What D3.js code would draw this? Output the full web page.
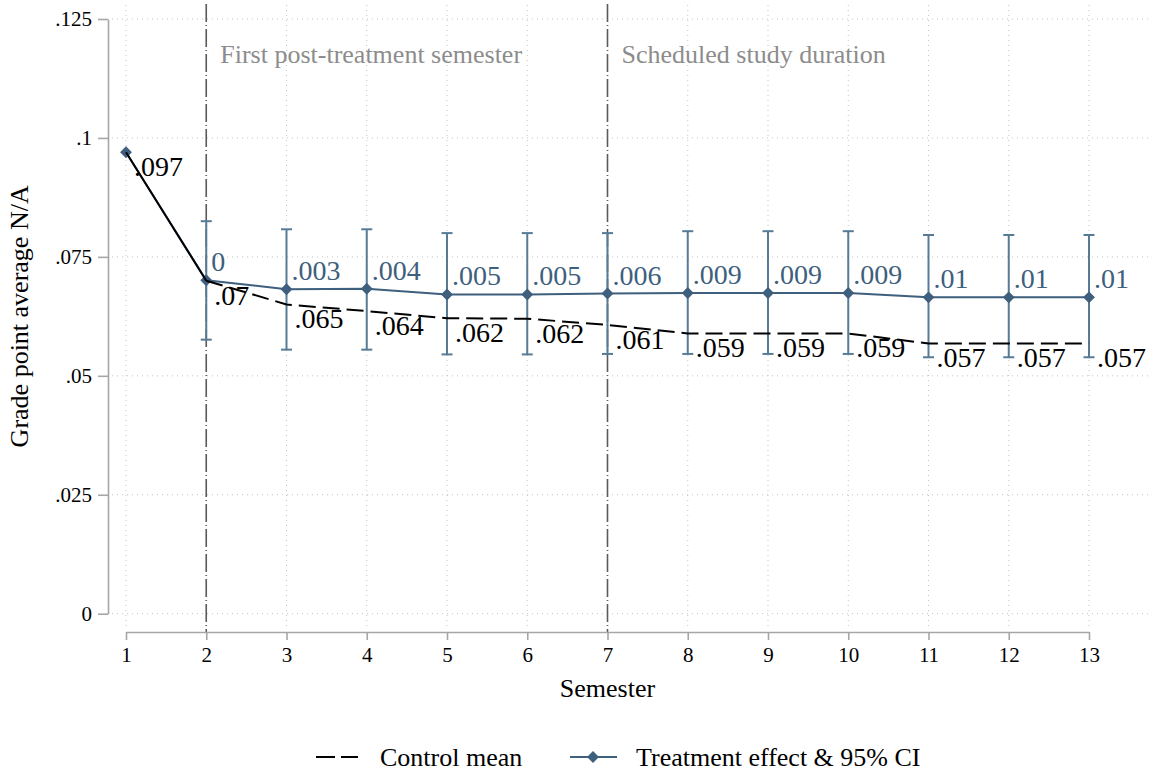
<!DOCTYPE html>
<html>
<head>
<meta charset="utf-8">
<script src="https://cdn.jsdelivr.net/npm/d3@7"></script>
<style>
  body { margin: 0; background: #fff; }
  svg { display: block; font-family: "Liberation Serif", "Times New Roman", serif; }
</style>
</head>
<body>
<div id="chart"></div>
<script>
// semesters and series
var semesters = [1, 2, 3, 4, 5, 6, 7, 8, 9, 10, 11, 12, 13];
var controlMean = [0.0970, 0.0700, 0.0650, 0.0636, 0.0621, 0.0620, 0.0607, 0.0589, 0.0589, 0.0589, 0.0568, 0.0568, 0.0568];
var treatLevel = [0.0970, 0.0701, 0.0682, 0.0683, 0.0671, 0.0671, 0.0673, 0.0674, 0.0674, 0.0674, 0.0665, 0.0665, 0.0665];
var ciLow = [null, 0.0576, 0.0555, 0.0555, 0.0545, 0.0545, 0.0546, 0.0546, 0.0546, 0.0546, 0.0539, 0.0539, 0.0539];
var ciHigh = [null, 0.0825, 0.0808, 0.0808, 0.0800, 0.0800, 0.0800, 0.0804, 0.0804, 0.0804, 0.0796, 0.0796, 0.0796];
var effectLabels = [null, 0, 0.003, 0.004, 0.005, 0.005, 0.006, 0.009, 0.009, 0.009, 0.01, 0.01, 0.01];
var yTicks = [0, 0.025, 0.05, 0.075, 0.1, 0.125];
var yTickLabels = ["0", ".025", ".05", ".075", ".1", ".125"];
var refLines = [
    { sem: 2, text: "First post-treatment semester" },
    { sem: 7, text: "Scheduled study duration" }
];

var W = 1157, H = 773;
var blue = "#3e5f7d", ciBlue = "#587b95", gray = "#a6a6a6";

var fmt = function(v) {
    var s = String(+v.toFixed(3));
    return s.replace(/^0\./, ".").replace(/^-0\./, "-.");
};

var x = d3.scaleLinear().domain([1, 13]).range([126, 1089]);
var y = d3.scaleLinear().domain([0, 0.125]).range([613.7, 19]);

var svg = d3.select("#chart").append("svg")
    .attr("width", W)
    .attr("height", H);

// dotted grid
svg.append("g").selectAll("line").data(yTicks).enter().append("line")
    .attr("x1", 112).attr("x2", 1152)
    .attr("y1", function(d) { return y(d); })
    .attr("y2", function(d) { return y(d); })
    .attr("stroke", "#c4c4c4").attr("stroke-width", 1)
    .attr("stroke-dasharray", "1,4");
svg.append("g").selectAll("line").data(semesters).enter().append("line")
    .attr("x1", function(d) { return x(d); })
    .attr("x2", function(d) { return x(d); })
    .attr("y1", 5).attr("y2", 628)
    .attr("stroke", "#c4c4c4").attr("stroke-width", 1)
    .attr("stroke-dasharray", "1,4");

// reference lines with notes
var ref = svg.append("g");
ref.selectAll("line").data(refLines).enter().append("line")
    .attr("x1", function(d) { return x(d.sem); })
    .attr("x2", function(d) { return x(d.sem); })
    .attr("y1", 4).attr("y2", 632)
    .attr("stroke", "#5a5a5a").attr("stroke-width", 1.6)
    .attr("stroke-dasharray", "18,3,1,3");
ref.selectAll("text").data(refLines).enter().append("text")
    .attr("x", function(d) { return x(d.sem) + 14; })
    .attr("y", 63)
    .attr("fill", "#8c8c8c")
    .style("font-size", "26px")
    .text(function(d) { return d.text; });

// axes
var yAxis = d3.axisLeft(y).tickValues(yTicks)
    .tickFormat(function(d, i) { return yTickLabels[i]; })
    .tickSize(10).tickSizeOuter(0).tickPadding(6);
var xAxis = d3.axisBottom(x).tickValues(semesters)
    .tickFormat(d3.format("d"))
    .tickSize(8).tickSizeOuter(0).tickPadding(7);

var gy = svg.append("g").attr("transform", "translate(108,0)").call(yAxis);
var gx = svg.append("g").attr("transform", "translate(0,632)").call(xAxis);
[gy, gx].forEach(function(g) {
    g.select(".domain").attr("stroke", gray).attr("stroke-width", 1.6);
    g.selectAll(".tick line").attr("stroke", gray).attr("stroke-width", 1.6);
    g.selectAll(".tick text").attr("fill", "#000")
        .style("font-size", "21px")
        .style("font-family", "'Liberation Serif', 'Times New Roman', serif");
});

svg.append("text")
    .attr("transform", "translate(28," + y(0.0625) + ") rotate(-90)")
    .attr("text-anchor", "middle")
    .style("font-size", "26px")
    .text("Grade point average N/A");
svg.append("text")
    .attr("x", (x(1) + x(13)) / 2).attr("y", 697)
    .attr("text-anchor", "middle")
    .style("font-size", "26px")
    .text("Semester");

// confidence intervals
var ciIdx = semesters.map(function(d, i) { return i; }).filter(function(i) { return ciLow[i] !== null; });
var ci = svg.append("g").attr("stroke", ciBlue).attr("stroke-width", 2);
ci.selectAll(".bar").data(ciIdx).enter().append("line")
    .attr("x1", function(i) { return x(semesters[i]); })
    .attr("x2", function(i) { return x(semesters[i]); })
    .attr("y1", function(i) { return y(ciLow[i]); })
    .attr("y2", function(i) { return y(ciHigh[i]); });
ci.selectAll(".capLo").data(ciIdx).enter().append("line")
    .attr("x1", function(i) { return x(semesters[i]) - 5.5; })
    .attr("x2", function(i) { return x(semesters[i]) + 5.5; })
    .attr("y1", function(i) { return y(ciLow[i]); })
    .attr("y2", function(i) { return y(ciLow[i]); });
ci.selectAll(".capHi").data(ciIdx).enter().append("line")
    .attr("x1", function(i) { return x(semesters[i]) - 5.5; })
    .attr("x2", function(i) { return x(semesters[i]) + 5.5; })
    .attr("y1", function(i) { return y(ciHigh[i]); })
    .attr("y2", function(i) { return y(ciHigh[i]); });

// treatment line and markers
var line = d3.line()
    .x(function(d) { return x(d[0]); })
    .y(function(d) { return y(d[1]); });
var treatPts = semesters.map(function(s, i) { return [s, treatLevel[i]]; });
svg.append("path").datum(treatPts)
    .attr("d", line)
    .attr("fill", "none").attr("stroke", blue).attr("stroke-width", 2);
var diamond = d3.symbol().type(d3.symbolDiamond2).size(90);
svg.append("g").selectAll("path").data(treatPts).enter().append("path")
    .attr("d", diamond)
    .attr("transform", function(d) { return "translate(" + x(d[0]) + "," + y(d[1]) + ")"; })
    .attr("fill", blue);

// control mean: solid before treatment, dashed after
var ctrlPts = semesters.map(function(s, i) { return [s, controlMean[i]]; });
svg.append("path").datum(ctrlPts.slice(0, 2))
    .attr("d", line)
    .attr("fill", "none").attr("stroke", "#000").attr("stroke-width", 2);
svg.append("path").datum(ctrlPts.slice(1))
    .attr("d", line)
    .attr("fill", "none").attr("stroke", "#000").attr("stroke-width", 2)
    .attr("stroke-dasharray", "17,7");

// value labels
svg.append("g").selectAll("text").data(ctrlPts).enter().append("text")
    .attr("x", function(d) { return x(d[0]) + 8; })
    .attr("y", function(d) { return y(d[1]) + 24; })
    .attr("fill", "#000")
    .style("font-size", "28px")
    .text(function(d) { return fmt(d[1]); });
var effIdx = ciIdx.filter(function(i) { return effectLabels[i] !== null; });
svg.append("g").selectAll("text").data(effIdx).enter().append("text")
    .attr("x", function(i) { return x(semesters[i]) + 5; })
    .attr("y", function(i) { return y(treatLevel[i]) - 9; })
    .attr("fill", blue)
    .style("font-size", "28px")
    .text(function(i) { return fmt(effectLabels[i]); });

// legend
var leg = svg.append("g").attr("transform", "translate(0,757)");
leg.append("line")
    .attr("x1", 316).attr("x2", 358).attr("y1", 0).attr("y2", 0)
    .attr("stroke", "#000").attr("stroke-width", 2)
    .attr("stroke-dasharray", "19,6");
leg.append("text").attr("x", 380).attr("y", 9)
    .style("font-size", "26px").text("Control mean");
leg.append("line")
    .attr("x1", 570).attr("x2", 617).attr("y1", 0).attr("y2", 0)
    .attr("stroke", blue).attr("stroke-width", 2);
leg.append("path").attr("d", diamond)
    .attr("transform", "translate(593,0)")
    .attr("fill", blue);
leg.append("text").attr("x", 636).attr("y", 9)
    .style("font-size", "26px").text("Treatment effect & 95% CI");
</script>
</body>
</html>
